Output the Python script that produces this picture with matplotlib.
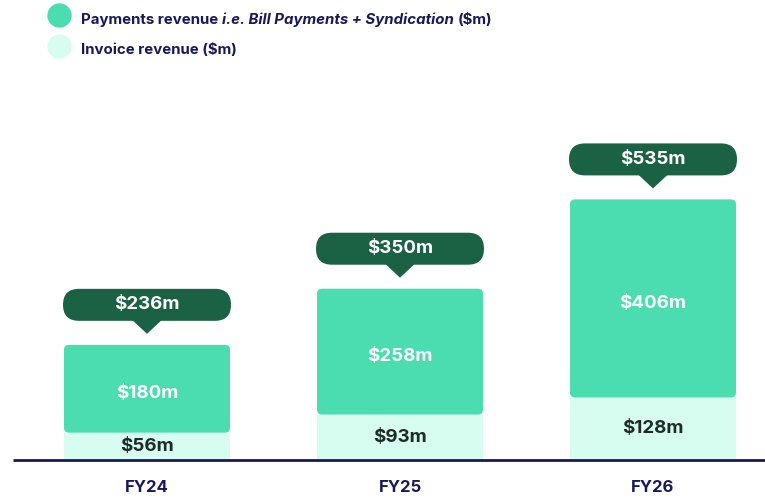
import matplotlib
matplotlib.use("Agg")
import matplotlib.pyplot as plt
from matplotlib.patches import FancyBboxPatch, Polygon
from matplotlib.lines import Line2D

categories = ["FY24", "FY25", "FY26"]
invoice = [56, 93, 128]
payments = [180, 258, 406]
totals = [236, 350, 535]

C_PAY = "#4BDCAF"
C_INV = "#D6FDF0"
C_CALL = "#1B6244"
C_NAVY = "#17195C"
C_DARK = "#1E2B28"
FONT = "Inter"

W, H, DPI = 765, 499, 100
fig = plt.figure(figsize=(W / DPI, H / DPI), dpi=DPI)
ax = fig.add_axes([0, 0, 1, 1])

# pixel-based layout
x0_px, step_px = 147, 253
base_px = 39          # baseline from bottom
ppu = 0.488           # px per value unit
xl = -x0_px / step_px
xr = (W - x0_px) / step_px
yb = -base_px / ppu
yt = (H - base_px) / ppu
ax.set_xlim(xl, xr)
ax.set_ylim(yb, yt)
ax.axis("off")

xu = 1 / step_px      # x units per px
yu = 1 / ppu          # y units per px
aspect = yu / xu
bw = 166 * xu

for i, (inv, pay, tot) in enumerate(zip(invoice, payments, totals)):
    p = FancyBboxPatch((i - bw / 2, inv), bw, pay,
                       boxstyle=f"round,pad=0,rounding_size={5 * xu}",
                       mutation_aspect=aspect, fc=C_PAY, ec="none", zorder=2)
    ax.add_patch(p)
    ax.bar(i, inv, width=bw, color=C_INV, zorder=3)
    ax.text(i, inv + pay / 2 - 5 * yu, f"${pay}m", ha="center", va="center",
            color="white", fontsize=13.5, fontweight="bold", family=FONT, zorder=5)
    ax.text(i, inv / 2, f"${inv}m", ha="center", va="center",
            color=C_DARK, fontsize=13.5, fontweight="bold", family=FONT, zorder=5)
    top = inv + pay
    cw, ch = 168 * xu, 32 * yu
    cb = top + 24 * yu
    c = FancyBboxPatch((i - cw / 2, cb), cw, ch,
                       boxstyle=f"round,pad=0,rounding_size={16 * xu}",
                       mutation_aspect=aspect, fc=C_CALL, ec="none", zorder=4)
    ax.add_patch(c)
    tri = Polygon([(i - 15 * xu, cb + 1 * yu), (i + 15 * xu, cb + 1 * yu),
                   (i, top + 11 * yu)], closed=True, fc=C_CALL, ec="none", zorder=4)
    ax.add_patch(tri)
    ax.text(i, cb + ch / 2, f"${tot}m", ha="center", va="center",
            color="white", fontsize=13.5, fontweight="bold", family=FONT, zorder=5)
    ax.text(i, -28 * yu, categories[i], ha="center", va="center",
            color=C_NAVY, fontsize=12, fontweight="bold", family=FONT)

ax.plot([13 * xu + xl, xr], [0, 0], color=C_NAVY, lw=2, zorder=6,
        solid_capstyle="butt")

# legend
fig.add_artist(Line2D([59 / W], [1 - 15 / H], marker="o", markersize=16.5,
                      color=C_PAY, transform=fig.transFigure, lw=0))
fig.add_artist(Line2D([59 / W], [1 - 46 / H], marker="o", markersize=16.5,
                      color=C_INV, transform=fig.transFigure, lw=0))

renderer = fig.canvas.get_renderer()
parts = [("Payments revenue", "normal"), ("i.e. Bill Payments + Syndication", "italic"),
         ("($m)", "normal")]
x = 81
for txt, style in parts:
    t = fig.text(x / W, 1 - 24 / H, txt, ha="left", va="baseline", color=C_NAVY,
                 fontsize=10.8, fontweight="bold", style=style, family=FONT)
    x += t.get_window_extent(renderer).width + 4
fig.text(81 / W, 1 - 54 / H, "Invoice revenue ($m)", ha="left", va="baseline",
         color=C_NAVY, fontsize=10.8, fontweight="bold", family=FONT)

fig.savefig("out.png", dpi=DPI)
